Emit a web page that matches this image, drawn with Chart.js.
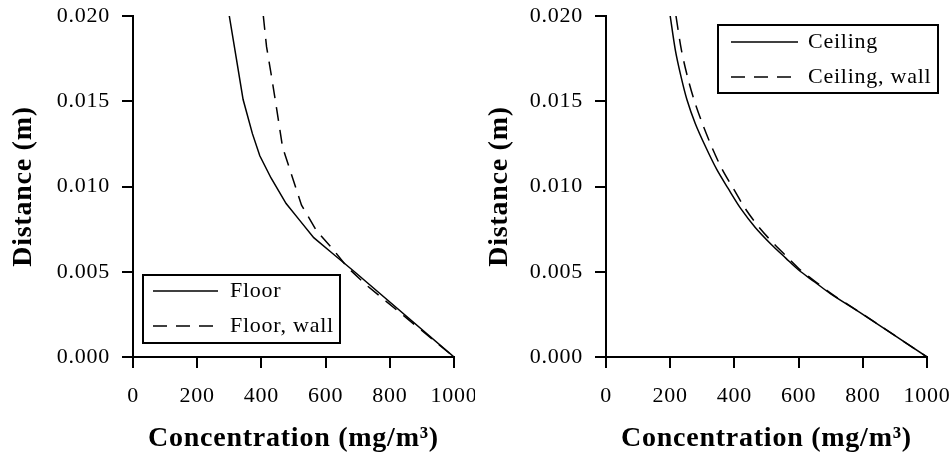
<!DOCTYPE html>
<html>
<head>
<meta charset="utf-8">
<script src="https://cdn.jsdelivr.net/npm/chart.js@4/dist/chart.umd.min.js"></script>
<style>
  html, body { margin: 0; padding: 0; background: #fff; }
  .panel { position: absolute; top: 0; width: 475px; height: 454px; }
  #left { left: 0; }
  #right { left: 476px; }
</style>
</head>
<body>
<div class="panel" id="left"><canvas id="floorChart" width="475" height="454"></canvas></div>
<div class="panel" id="right"><canvas id="ceilingChart" width="475" height="454"></canvas></div>
<script>
// Concentration profiles near the surface (x: mg/m3, y: distance in m)
const floorConc = [300, 322, 343, 372, 395, 430, 477, 520, 563, 620, 690, 1000];
const floorDist = [0.020, 0.0175, 0.0151, 0.0131, 0.0118, 0.0105, 0.0090, 0.0080, 0.0070, 0.0061, 0.0050, 0.0];

const floorWallConc = [406, 416, 432, 448, 466, 499, 525, 572, 624, 666, 728, 1000];
const floorWallDist = [0.020, 0.0182, 0.0164, 0.0145, 0.0123, 0.0104, 0.0089, 0.0074, 0.0063, 0.0053, 0.0042, 0.0];

const ceilingConc = [200, 216, 233, 252, 278, 311, 345, 380, 420, 465, 515, 560, 600, 650, 700, 800, 1000];
const ceilingDist = [0.020, 0.018, 0.0165, 0.0151, 0.0137, 0.0123, 0.0110, 0.0099, 0.0087, 0.0076, 0.0066, 0.0058, 0.0051, 0.0044, 0.0037, 0.0025, 0.0];

const ceilingWallConc = [218, 235, 253, 274, 300, 330, 362, 396, 434, 477, 525, 568, 606, 654, 703, 801, 1000];
const ceilingWallDist = [0.020, 0.018, 0.0165, 0.0151, 0.0137, 0.0123, 0.0110, 0.0099, 0.0087, 0.0076, 0.0066, 0.0058, 0.0051, 0.0044, 0.0037, 0.0025, 0.0];

const xTicks = [0, 200, 400, 600, 800, 1000];
const yTicks = [0, 0.005, 0.010, 0.015, 0.020];

const SERIF = "'Liberation Serif', 'Times New Roman', serif";
const DASH = [14, 9];
const LETTER_SPACING = '0.75px';

const toPoints = (xs, ys) => xs.map((x, i) => ({ x: x, y: ys[i] }));

// letter spacing on all canvas text
const spacing = {
    id: 'spacing',
    beforeLayout(chart) { chart.ctx.letterSpacing = LETTER_SPACING; },
    beforeDraw(chart) { chart.ctx.letterSpacing = LETTER_SPACING; }
};

// framed legend drawn inside the plot area
const boxLegend = {
    id: 'boxLegend',
    afterDraw(chart, args, opts) {
        const { ctx, chartArea } = chart;
        const bx = chartArea.left + opts.x;
        const by = chartArea.top + opts.y;
        ctx.save();
        ctx.letterSpacing = LETTER_SPACING;
        ctx.strokeStyle = '#000';
        ctx.lineWidth = 2;
        ctx.strokeRect(bx, by, opts.width, opts.height);
        ctx.font = '22px ' + SERIF;
        ctx.textBaseline = 'middle';
        ctx.fillStyle = '#000';
        chart.data.datasets.forEach((ds, i) => {
            const ry = by + opts.rows[i];
            ctx.beginPath();
            ctx.lineWidth = 1.5;
            ctx.setLineDash(ds.borderDash || []);
            ctx.moveTo(bx + opts.lineStart, ry);
            ctx.lineTo(bx + opts.lineEnd, ry);
            ctx.stroke();
            ctx.setLineDash([]);
            ctx.fillText(ds.label, bx + opts.textX, ry);
        });
        ctx.restore();
    }
};

function makeOptions(axisWidth, rightPad, legendOpts) {
    return {
        responsive: false,
        animation: false,
        layout: { padding: { top: 16, right: rightPad, left: 0, bottom: 0 } },
        plugins: {
            legend: { display: false },
            tooltip: { enabled: false },
            boxLegend: legendOpts
        },
        scales: {
            x: {
                type: 'linear',
                min: 0,
                max: 1000,
                afterBuildTicks: (scale) => { scale.ticks = xTicks.map(v => ({ value: v })); },
                ticks: {
                    color: '#000',
                    padding: 15,
                    maxRotation: 0,
                    font: { family: SERIF, size: 22 },
                    callback: (v) => String(v)
                },
                grid: { drawOnChartArea: false, drawTicks: true, tickLength: 11, lineWidth: 2, color: '#000' },
                border: { display: true, width: 2, color: '#000' },
                title: {
                    display: true,
                    text: 'Concentration (mg/m³)',
                    color: '#000',
                    padding: { top: 0, bottom: 0 },
                    font: { family: SERIF, size: 28, weight: 'bold', lineHeight: 1.1 }
                },
                afterFit: (scale) => {
                    scale.height = 97;
                    scale.paddingLeft = 0;
                    scale.paddingRight = 0;
                }
            },
            y: {
                type: 'linear',
                min: 0,
                max: 0.02,
                afterBuildTicks: (scale) => { scale.ticks = yTicks.map(v => ({ value: v })); },
                ticks: {
                    color: '#000',
                    padding: 12,
                    font: { family: SERIF, size: 22 },
                    callback: (v) => v.toFixed(3)
                },
                grid: { drawOnChartArea: false, drawTicks: true, tickLength: 11, lineWidth: 2, color: '#000' },
                border: { display: true, width: 2, color: '#000' },
                title: {
                    display: true,
                    text: 'Distance (m)',
                    color: '#000',
                    padding: { top: 7, bottom: 0 },
                    font: { family: SERIF, size: 28, weight: 'bold', lineHeight: 1.2 }
                },
                afterFit: (scale) => {
                    scale.width = axisWidth;
                    scale.paddingTop = 0;
                    scale.paddingBottom = 0;
                }
            }
        }
    };
}

function lineSet(label, points, dashed, tension) {
    return {
        label: label,
        data: points,
        showLine: true,
        borderColor: '#000',
        backgroundColor: '#000',
        borderWidth: 1.5,
        borderDash: dashed ? DASH : [],
        pointRadius: 0,
        tension: tension
    };
}

new Chart(document.getElementById('floorChart'), {
    type: 'scatter',
    data: {
        datasets: [
            lineSet('Floor', toPoints(floorConc, floorDist), false, 0),
            lineSet('Floor, wall', toPoints(floorWallConc, floorWallDist), true, 0)
        ]
    },
    options: makeOptions(133, 21, {
        x: 10, y: 259, width: 197, height: 68,
        rows: [16, 51], lineStart: 10, lineEnd: 75, textX: 87
    }),
    plugins: [spacing, boxLegend]
});

new Chart(document.getElementById('ceilingChart'), {
    type: 'scatter',
    data: {
        datasets: [
            lineSet('Ceiling', toPoints(ceilingConc, ceilingDist), false, 0.3),
            lineSet('Ceiling, wall', toPoints(ceilingWallConc, ceilingWallDist), true, 0.3)
        ]
    },
    options: makeOptions(130, 24, {
        x: 112, y: 9, width: 220, height: 68,
        rows: [17, 52], lineStart: 13, lineEnd: 80, textX: 90
    }),
    plugins: [spacing, boxLegend]
});
</script>
</body>
</html>
